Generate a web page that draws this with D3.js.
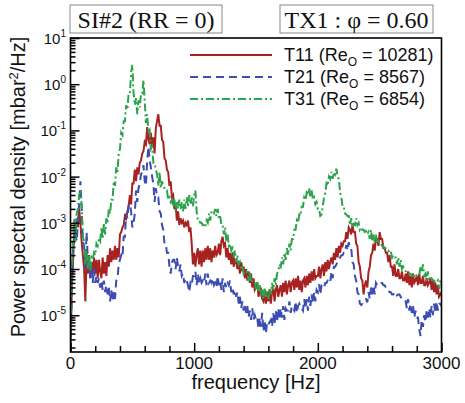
<!DOCTYPE html>
<html><head><meta charset="utf-8">
<script src="https://cdn.jsdelivr.net/npm/d3@7"></script>
<style>body{margin:0;background:#fff}svg{display:block}</style>
</head><body><svg id="c" width="465" height="403"></svg>
<script>
// frequency grid (Hz)
const freqStart = 0, freqStep = 10, freqEnd = 3000;
// log10 of PSD [mbar^2/Hz], one value per 10 Hz
const t11Log = [
-6.0,-4.4,-3.9,-3.2,-3.3,-2.9,-3.1,-2.7,-3.0,-3.4,
-3.7,-4.0,-4.7,-3.8,-4.1,-3.7,-4.2,-3.85,-4.1,-3.75,
-4.1,-3.8,-4.2,-3.8,-4.05,-4.2,-3.75,-4.1,-3.85,-4.15,
-3.7,-3.95,-3.55,-3.85,-3.6,-3.8,-3.5,-3.8,-3.55,-3.75,
-3.25,-3.2,-3.1,-3.05,-2.85,-2.9,-2.75,-2.65,-2.4,-2.6,
-2.15,-2.15,-1.85,-2.1,-1.8,-1.95,-1.7,-1.65,-1.5,-1.45,
-1.25,-1.3,-0.93,-1.2,-1.3,-1.05,-1.35,-1.15,-1.5,-0.95,
-0.8,-0.65,-0.9,-0.9,-1.2,-1.25,-1.6,-1.65,-1.85,-1.9,
-2.2,-2.1,-2.45,-2.4,-2.7,-2.6,-2.95,-2.75,-3.05,-2.9,
-3.0,-2.95,-3.1,-3.0,-3.05,-2.95,-3.2,-3.1,-3.45,-3.9,
-3.65,-3.95,-3.7,-3.55,-3.9,-3.6,-3.95,-3.6,-3.85,-3.55,
-3.8,-3.5,-3.8,-3.55,-3.85,-3.6,-3.75,-3.5,-3.7,-3.65,
-3.45,-3.7,-3.4,-3.3,-3.5,-3.45,-3.75,-3.55,-3.8,-3.65,
-3.9,-3.65,-3.95,-3.8,-3.85,-4.0,-3.85,-4.1,-3.85,-4.05,
-3.95,-4.2,-4.0,-4.25,-4.05,-4.3,-4.1,-4.4,-4.2,-4.45,
-4.4,-4.3,-4.6,-4.5,-4.4,-4.65,-4.7,-4.45,-4.75,-4.5,
-4.7,-4.45,-4.75,-4.5,-4.4,-4.7,-4.45,-4.35,-4.6,-4.45,
-4.35,-4.6,-4.3,-4.5,-4.25,-4.55,-4.35,-4.25,-4.5,-4.3,
-4.25,-4.45,-4.2,-4.4,-4.15,-4.45,-4.25,-4.5,-4.25,-4.2,
-4.4,-4.15,-4.35,-4.1,-4.3,-4.05,-4.25,-4.0,-4.2,-4.15,
-4.15,-3.95,-4.2,-4.0,-3.9,-4.15,-3.85,-4.05,-3.8,-4.0,
-3.85,-3.75,-3.9,-3.65,-3.8,-3.55,-3.75,-3.5,-3.65,-3.45,
-3.5,-3.4,-3.4,-3.2,-3.35,-3.1,-3.15,-3.25,-3.05,-3.2,
-3.2,-3.45,-3.5,-3.85,-3.95,-4.2,-4.25,-4.55,-4.35,-4.25,
-4.4,-4.05,-3.95,-3.7,-3.65,-3.45,-3.6,-3.35,-3.35,-3.5,
-3.2,-3.35,-3.35,-3.55,-3.55,-3.65,-3.65,-3.85,-3.7,-3.95,
-3.95,-4.15,-3.9,-4.15,-4.15,-4.0,-4.2,-4.2,-4.05,-4.25,
-4.25,-4.1,-4.3,-4.05,-4.35,-4.15,-4.4,-4.1,-4.3,-4.25,
-4.15,-4.35,-4.1,-4.3,-4.3,-4.15,-4.35,-4.35,-4.2,-4.35,
-4.3,-4.2,-4.45,-4.25,-4.5,-4.3,-4.55,-4.35,-4.6,-4.55,
-4.5];
const t21Log = [
-6.0,-4.6,-3.5,-3.3,-3.2,-3.4,-3.0,-2.6,-2.1,-2.7,
-3.4,-3.5,-4.0,-3.2,-3.8,-3.85,-4.2,-3.9,-4.3,-4.0,
-4.3,-4.15,-4.3,-4.2,-4.4,-4.25,-4.45,-4.25,-4.5,-4.35,
-4.55,-4.4,-4.7,-4.45,-4.7,-4.5,-4.65,-4.25,-4.2,-3.9,
-3.8,-3.7,-3.75,-3.3,-3.3,-2.8,-2.9,-2.6,-2.6,-2.75,
-3.1,-3.0,-2.8,-2.3,-2.55,-2.25,-2.15,-1.95,-1.9,-1.75,
-2.1,-2.2,-1.65,-1.35,-1.65,-1.8,-2.0,-2.15,-2.55,-2.25,
-2.45,-2.45,-2.75,-2.8,-3.05,-3.15,-3.45,-3.45,-3.65,-3.65,
-3.95,-4.1,-3.85,-3.8,-3.8,-4.0,-3.75,-3.95,-4.05,-3.9,
-4.15,-4.1,-4.3,-4.2,-4.25,-4.35,-4.5,-4.3,-4.35,-4.15,
-4.15,-4.05,-4.35,-4.1,-4.3,-4.2,-4.3,-4.25,-4.3,-4.1,
-4.35,-4.1,-4.3,-4.25,-4.3,-4.2,-4.35,-4.3,-4.4,-4.15,
-4.35,-4.25,-4.45,-4.2,-4.5,-4.3,-4.4,-4.3,-4.35,-4.25,
-4.5,-4.4,-4.55,-4.45,-4.6,-4.5,-4.75,-4.6,-4.85,-4.7,
-4.9,-4.75,-4.95,-4.8,-5.05,-4.9,-5.1,-4.85,-5.1,-5.0,
-5.1,-5.05,-5.3,-5.05,-5.25,-4.95,-5.35,-5.1,-5.4,-5.15,
-5.2,-5.15,-5.1,-5.25,-4.95,-5.2,-4.9,-5.15,-4.85,-5.1,
-4.85,-5.05,-4.8,-5.1,-4.85,-4.9,-4.9,-4.7,-4.95,-4.8,
-4.85,-4.9,-4.7,-4.95,-4.8,-4.75,-4.85,-4.85,-4.9,-4.65,
-4.85,-4.65,-4.9,-4.6,-4.8,-4.55,-4.75,-4.5,-4.7,-4.45,
-4.5,-4.33,-4.55,-4.35,-4.35,-4.4,-4.3,-4.3,-4.25,-4.25,
-4.3,-4.05,-4.2,-3.95,-3.95,-3.9,-3.85,-3.8,-3.75,-3.7,
-3.7,-3.65,-3.65,-3.48,-3.6,-3.42,-3.55,-3.55,-3.85,-3.9,
-4.15,-4.25,-4.5,-4.55,-4.75,-4.78,-4.75,-4.7,-4.65,-4.65,
-4.72,-4.5,-4.65,-4.4,-4.55,-4.35,-4.55,-4.3,-4.35,-4.35,
-4.3,-4.3,-4.3,-4.35,-4.35,-4.4,-4.45,-4.45,-4.5,-4.5,
-4.55,-4.55,-4.5,-4.5,-4.57,-4.55,-4.55,-4.6,-4.65,-4.65,
-4.7,-4.7,-4.85,-4.65,-4.9,-4.75,-4.95,-4.8,-5.05,-4.9,
-5.05,-5.05,-5.3,-5.45,-5.1,-5.25,-5.0,-5.15,-4.9,-5.05,
-4.85,-5.05,-4.8,-5.0,-4.75,-4.95,-4.7,-4.9,-4.75,-4.75,
-4.8];
const t31Log = [
-6.0,-4.0,-3.6,-2.9,-3.4,-2.8,-2.7,-2.4,-2.35,-2.6,
-3.3,-3.4,-3.9,-3.6,-4.0,-3.7,-4.05,-3.75,-3.8,-3.65,
-3.7,-3.45,-3.5,-3.35,-3.4,-3.1,-3.35,-3.0,-3.25,-2.9,
-3.0,-2.7,-2.8,-2.5,-2.5,-2.1,-2.2,-1.8,-1.9,-1.5,
-1.4,-1.05,-1.1,-0.8,-0.8,-0.45,-0.55,-0.2,-0.2,0.25,
0.42,-0.2,-0.45,-0.3,-0.65,-0.35,-0.5,-0.2,-0.2,0.09,
-0.35,-0.84,-0.65,-1.05,-1.0,-1.4,-1.35,-1.7,-1.7,-1.85,
-1.95,-2.2,-1.9,-2.25,-2.1,-2.2,-2.25,-2.3,-2.3,-2.5,
-2.45,-2.55,-2.5,-2.65,-2.5,-2.75,-2.55,-2.7,-2.5,-2.7,
-2.55,-2.75,-2.5,-2.7,-2.45,-2.65,-2.4,-2.6,-2.45,-2.65,
-2.4,-2.3,-2.75,-2.95,-2.95,-3.0,-3.0,-3.05,-3.05,-3.1,
-2.95,-3.0,-2.8,-2.95,-2.75,-2.8,-2.8,-2.7,-2.85,-2.7,
-2.9,-2.85,-3.05,-3.05,-3.25,-3.1,-3.4,-3.25,-3.5,-3.45,
-3.6,-3.55,-3.75,-3.6,-3.85,-3.7,-3.9,-3.85,-4.0,-3.95,
-4.1,-4.05,-4.05,-4.1,-4.25,-4.05,-4.3,-4.25,-4.25,-4.3,
-4.43,-4.25,-4.5,-4.35,-4.6,-4.45,-4.65,-4.4,-4.6,-4.45,
-4.65,-4.4,-4.55,-4.3,-4.45,-4.2,-4.35,-4.1,-4.05,-3.9,
-3.95,-3.75,-3.9,-3.65,-3.8,-3.55,-3.7,-3.45,-3.6,-3.35,
-3.35,-3.15,-3.15,-2.95,-3.0,-2.82,-2.85,-2.65,-2.65,-2.45,
-2.5,-2.35,-2.4,-2.25,-2.45,-2.3,-2.5,-2.45,-2.6,-2.55,
-2.7,-2.7,-2.85,-2.82,-2.65,-2.45,-2.35,-2.15,-2.2,-2.0,
-2.05,-1.9,-2.05,-1.9,-1.95,-1.83,-2.0,-2.05,-2.35,-2.45,
-2.65,-2.65,-2.8,-2.82,-2.85,-2.85,-3.05,-2.9,-3.1,-3.03,
-3.05,-2.9,-3.05,-3.0,-3.15,-3.1,-3.15,-3.15,-3.2,-3.18,
-3.25,-3.2,-3.35,-3.15,-3.4,-3.25,-3.42,-3.25,-3.45,-3.4,
-3.45,-3.45,-3.5,-3.5,-3.55,-3.55,-3.6,-3.6,-3.65,-3.62,
-3.75,-3.7,-3.75,-3.75,-3.9,-3.75,-3.95,-3.8,-4.0,-3.95,
-4.0,-4.05,-4.05,-4.05,-4.1,-4.1,-4.15,-4.15,-4.15,-4.1,
-4.15,-4.15,-4.15,-3.95,-4.07,-3.9,-4.15,-4.1,-4.25,-4.05,
-4.25,-4.2,-4.2,-4.25,-4.25,-4.3,-4.3,-4.25,-4.43,-4.25,
-4.35];
const seriesNames = ["T11", "T21", "T31"];
const seriesRe = ["10281", "8567", "6854"];
const xTickLabels = [0, 1000, 2000, 3000];
const yTickExponents = [1, 0, -1, -2, -3, -4, -5];

const freqs = d3.range(freqStart, freqEnd + 1, freqStep);
const svg = d3.select("#c");
const L = 70.5, R = 441.5, T = 38, B = 352;
const x = d3.scaleLinear().domain([0, 3000]).range([L, R]);
const y = d3.scaleLog().domain([1.6e-6, 10]).range([B, T]);

svg.append("defs").append("clipPath").attr("id", "clip")
  .append("rect").attr("x", L).attr("y", T).attr("width", R - L).attr("height", B - T);

const styles = [
  {color: "#a82222", dash: null, width: 2},
  {color: "#3b4db3", dash: "8,5", width: 2},
  {color: "#2aa34c", dash: "8,3,2,3", width: 2}
];
const logs = [t11Log, t21Log, t31Log];
const line = d3.line().x(d => x(d[0])).y(d => y(d[1]));
const g = svg.append("g").attr("clip-path", "url(#clip)");
[0, 1, 2].forEach(i => {
  const pts = freqs.map((f, k) => [f, Math.pow(10, logs[i][k])]);
  g.append("path").datum(pts).attr("d", line)
    .attr("fill", "none").attr("stroke", styles[i].color)
    .attr("stroke-width", styles[i].width)
    .attr("stroke-dasharray", styles[i].dash)
    .attr("stroke-linejoin", "miter");
});

// axes ticks (inward)
const yMajors = yTickExponents.map(e => Math.pow(10, e));
const yMinors = [];
for (let e = -6; e <= 0; e++) for (let m = 2; m <= 9; m++) {
  const v = m * Math.pow(10, e);
  if (v >= 1.6e-6 && v <= 10) yMinors.push(v);
}
const axY1 = svg.append("g").attr("transform", `translate(${L},0)`)
  .call(d3.axisLeft(y).tickValues(yMajors).tickSize(-9).tickFormat(""));
const axY2 = svg.append("g").attr("transform", `translate(${L},0)`)
  .call(d3.axisLeft(y).tickValues(yMinors).tickSize(-5).tickFormat(""));
const xMinors = d3.range(200, 3000, 200).filter(v => v % 1000 !== 0);
const axX1 = svg.append("g").attr("transform", `translate(0,${B})`)
  .call(d3.axisBottom(x).tickValues(xTickLabels).tickSize(-9).tickFormat(""));
const axX2 = svg.append("g").attr("transform", `translate(0,${B})`)
  .call(d3.axisBottom(x).tickValues(xMinors).tickSize(-6).tickFormat(""));
[axY1, axY2, axX1, axX2].forEach(a => {
  a.select(".domain").remove();
  a.selectAll("line").attr("stroke", "#000").attr("stroke-width", 1.5);
});

// frame
svg.append("rect").attr("x", L).attr("y", T).attr("width", R - L).attr("height", B - T)
  .attr("fill", "none").attr("stroke", "#000").attr("stroke-width", 1.6);

const sans = "Arial, 'Liberation Sans', sans-serif";
// y tick labels
yTickExponents.forEach(e => {
  const t = svg.append("text").attr("x", 66).attr("y", y(Math.pow(10, e)) + 6)
    .attr("text-anchor", "end").attr("font-family", sans).attr("font-size", 15).attr("fill", "#111");
  t.append("tspan").text("10");
  t.append("tspan").attr("dy", -7).attr("font-size", 10).text(String(e));
});
// x tick labels
xTickLabels.forEach(v => {
  svg.append("text").attr("x", x(v)).attr("y", 369).attr("text-anchor", "middle")
    .attr("font-family", sans).attr("font-size", 17).attr("fill", "#111").text(v);
});
// axis titles
svg.append("text").attr("x", 256).attr("y", 389).attr("text-anchor", "middle")
  .attr("font-family", sans).attr("font-size", 20).attr("fill", "#111").text("frequency [Hz]");
const yt = svg.append("text").attr("transform", "translate(25,187) rotate(-90)")
  .attr("text-anchor", "middle").attr("font-family", sans).attr("font-size", 20).attr("fill", "#111");
yt.append("tspan").text("Power spectral density [mbar");
yt.append("tspan").attr("dy", -7).attr("font-size", 13).text("2");
yt.append("tspan").attr("dy", 7).text("/Hz]");

// legend
const legY = [55, 77, 99];
[0, 1, 2].forEach(i => {
  svg.append("line").attr("x1", 190).attr("x2", 272).attr("y1", legY[i]).attr("y2", legY[i])
    .attr("stroke", styles[i].color).attr("stroke-width", 2).attr("stroke-dasharray", styles[i].dash);
  const t = svg.append("text").attr("x", 284).attr("y", legY[i] + 6)
    .attr("font-family", sans).attr("font-size", 18).attr("fill", "#111");
  t.append("tspan").text(seriesNames[i] + " (Re");
  t.append("tspan").attr("dy", 5).attr("font-size", 12).text("O");
  t.append("tspan").attr("dy", -5).text(" = " + seriesRe[i] + ")");
});

// title boxes
const serif = "'Liberation Serif', 'Times New Roman', serif";
[[70, 152, "SI#2 (RR = 0)"], [280, 153, "TX1 : φ = 0.60"]].forEach(b => {
  svg.append("rect").attr("x", b[0]).attr("y", 5).attr("width", b[1]).attr("height", 28)
    .attr("fill", "#fff").attr("stroke", "#888").attr("stroke-width", 1);
  svg.append("text").attr("x", b[0] + b[1] / 2).attr("y", 28).attr("text-anchor", "middle")
    .attr("font-family", serif).attr("font-size", 24).attr("fill", "#111").text(b[2]);
});
</script></body></html>
